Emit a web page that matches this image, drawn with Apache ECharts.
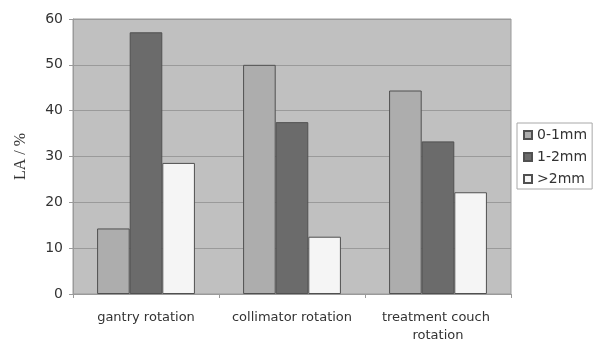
<!DOCTYPE html>
<html><head><meta charset="utf-8">
<script src="https://cdn.jsdelivr.net/npm/echarts@6/dist/echarts.min.js"></script>
<style>html,body{margin:0;padding:0;background:#fff}#c{width:596px;height:345px}</style>
</head><body><div id="c"></div>
<script>
const categories = ["gantry rotation", "collimator rotation", "treatment couch rotation"];
const series0to1 = [14.3, 50.0, 44.4];
const series1to2 = [57.1, 37.5, 33.3];
const seriesOver2 = [28.6, 12.5, 22.2];
const seriesNames = ["0-1mm", "1-2mm", ">2mm"];
const yTicks = [0, 10, 20, 30, 40, 50, 60];

const colors = ["#adadad", "#6b6b6b", "#f5f5f5"];
const font = "DejaVu Sans";
const chart = echarts.init(document.getElementById('c'), null, {renderer: 'canvas'});
const mk = (name, data, color) => ({
  name, type: 'bar', data, barGap: '0%', barCategoryGap: '33%',
  itemStyle: {color, borderColor: '#505050', borderWidth: 1},
  emphasis: {disabled: true}
});
chart.setOption({
  animation: false,
  grid: {left: 73, right: 85, top: 19, bottom: 50, show: true, backgroundColor: '#c0c0c0', borderColor: '#9a9a9a', borderWidth: 1},
  legend: {
    orient: 'vertical', left: 517, top: 123,
    padding: [5, 5, 3, 6], itemGap: 8, itemWidth: 8, itemHeight: 8,
    borderColor: '#a8a8a8', borderWidth: 1, backgroundColor: '#fff',
    textStyle: {fontFamily: font, fontSize: 14, color: '#333'},
    data: seriesNames.map(n => ({name: n, icon: 'rect'}))
  },
  xAxis: {
    type: 'category', data: categories,
    axisLine: {lineStyle: {color: '#9a9a9a'}},
    axisTick: {show: true, length: 4, lineStyle: {color: '#9a9a9a'}},
    axisLabel: {interval: 0, margin: 15, width: 135, overflow: 'break', lineHeight: 18,
      fontFamily: font, fontSize: 13, color: '#333'}
  },
  yAxis: {
    type: 'value', min: yTicks[0], max: yTicks[yTicks.length - 1], interval: 10,
    name: 'LA / %', nameLocation: 'middle', nameGap: 44,
    nameTextStyle: {fontFamily: 'Liberation Serif', fontSize: 16, color: '#333'},
    axisLine: {show: true, lineStyle: {color: '#9a9a9a'}},
    axisTick: {show: true, length: 4, lineStyle: {color: '#9a9a9a'}},
    splitLine: {lineStyle: {color: '#9a9a9a', width: 1}},
    axisLabel: {margin: 10, fontFamily: font, fontSize: 14, color: '#333'}
  },
  series: [
    mk(seriesNames[0], series0to1, colors[0]),
    mk(seriesNames[1], series1to2, colors[1]),
    mk(seriesNames[2], seriesOver2, colors[2])
  ]
});
</script></body></html>
